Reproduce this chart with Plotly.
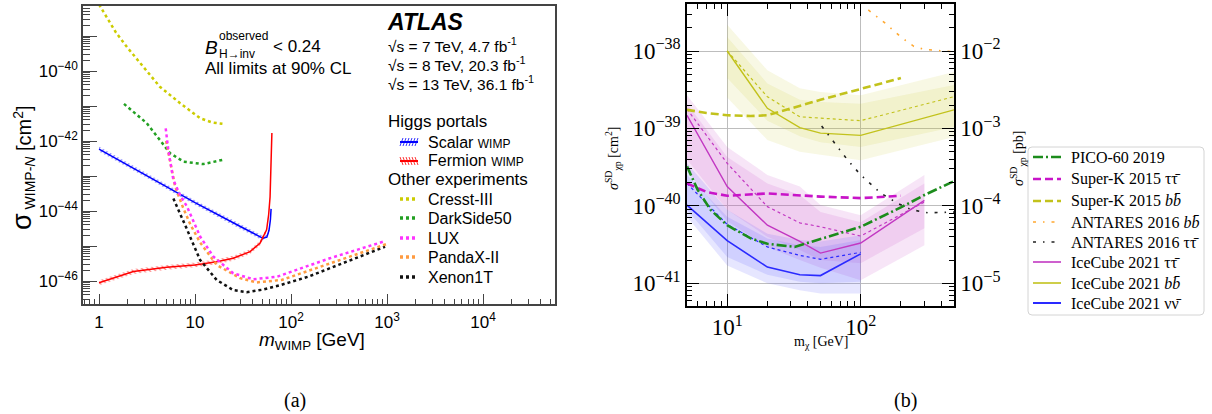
import numpy as np
import plotly.graph_objects as go

W, H = 1212, 414
SANS = "Liberation Sans, Arial, sans-serif"
SERIF = "Liberation Serif, Times New Roman, serif"

# ---------------- (a) Higgs portal limits vs. direct detection ----------------
# masses in GeV, cross-sections as log10(sigma / cm^2)
cresst_mass = [1.0, 1.5, 2.0, 2.9, 4.3, 7.0, 11.3, 15.0, 19.3]
cresst_logxs = [-38.10, -38.90, -39.35, -39.88, -40.45, -40.92, -41.35, -41.47, -41.51]

darkside_mass = [1.82, 2.28, 3.14, 4.3, 5.5, 7.6, 12.2, 19.3]
darkside_logxs = [-40.94, -41.16, -41.49, -41.97, -42.35, -42.59, -42.66, -42.54]

lux_mass = [4.95, 5.27, 5.95, 7.0, 8.2, 11.3, 15.5, 25.0, 40.4, 71.0, 254.0, 955.0]
lux_logxs = [-41.64, -42.26, -43.11, -43.55, -43.86, -44.73, -45.30, -45.78, -45.95, -45.88, -45.35, -44.86]

pandax_mass = [5.0, 5.5, 6.2, 7.5, 9.0, 11.3, 16.8, 29.5, 44.0, 80.0, 254.0, 1000.0]
pandax_logxs = [-42.0, -42.6, -43.3, -43.9, -44.4, -44.9, -45.54, -45.92, -46.04, -45.97, -45.49, -44.94]

xenon_mass = [5.95, 7.0, 8.2, 11.3, 16.8, 25.0, 34.5, 50.0, 76.8, 150.0, 254.0, 500.0, 955.0]
xenon_logxs = [-43.64, -44.10, -44.51, -45.40, -45.97, -46.26, -46.32, -46.25, -46.12, -45.88, -45.64, -45.32, -45.02]

scalar_mass = [1.0, 3.0, 10.0, 30.0, 51.0, 56.0, 59.0, 61.0, 62.0]
scalar_logxs = [-42.23, -42.95, -43.76, -44.45, -44.78, -44.75, -44.55, -44.25, -43.94]

fermion_mass = [1.0, 2.28, 5.07, 10.0, 16.8, 25.0, 37.5, 47.5, 55.7, 58.5, 60.5, 61.5, 62.5, 63.2]
fermion_logxs = [-46.05, -45.73, -45.61, -45.54, -45.45, -45.35, -45.16, -44.92, -44.54, -44.10, -43.60, -43.00, -42.40, -41.77]

# ---------------- (b) spin-dependent WIMP-proton limits ----------------
pico_mass = [5, 6, 7.5, 10, 15, 20, 32, 45, 60, 100, 200, 300, 500]
pico_logxs = [-39.49, -39.79, -40.05, -40.25, -40.42, -40.49, -40.53, -40.45, -40.39, -40.27, -40.02, -39.86, -39.68]

superk_tau_mass = [5, 7, 10, 20, 50, 100, 200]
superk_tau_logxs = [-39.71, -39.82, -39.87, -39.84, -39.88, -39.90, -39.87]

superk_bb_mass = [5, 7, 10, 15, 20, 30, 50, 100, 200]
superk_bb_logxs = [-38.76, -38.80, -38.83, -38.84, -38.83, -38.74, -38.63, -38.49, -38.35]

antares_bb_mass = [114, 150, 200, 250, 300, 400, 500]
antares_bb_logxs = [-37.47, -37.63, -37.82, -37.94, -37.98, -38.00, -38.01]

antares_tau_mass = [51, 60, 80, 100, 140, 190, 240, 320, 500]
antares_tau_logxs = [-38.97, -39.13, -39.41, -39.60, -39.83, -39.97, -40.05, -40.09, -40.08]

ic_tau_mass = [5, 10, 20, 35, 50, 100, 300]
ic_tau_obs = [-38.83, -39.75, -40.25, -40.46, -40.61, -40.48, -39.93]
ic_tau_exp = [-38.75, -39.45, -40.01, -40.22, -40.27, -40.39, -39.95]
ic_tau_2up = [-38.57, -39.24, -39.60, -39.75, -39.99, -40.12, -39.60]
ic_tau_1up = [-38.68, -39.37, -39.71, -39.86, -40.08, -40.21, -39.71]
ic_tau_1dn = [-39.40, -40.05, -40.40, -40.57, -40.70, -40.74, -40.29]
ic_tau_2dn = [-39.55, -40.20, -40.53, -40.70, -40.80, -40.96, -40.51]

ic_bb_mass = [10, 20, 35, 50, 100, 500]
ic_bb_obs = [-38.00, -38.74, -38.99, -39.06, -39.09, -38.76]
ic_bb_exp = [-38.00, -38.59, -38.85, -38.87, -38.90, -38.59]
ic_bb_2up = [-37.66, -38.25, -38.48, -38.53, -38.57, -38.27]
ic_bb_1up = [-37.82, -38.42, -38.63, -38.66, -38.68, -38.44]
ic_bb_1dn = [-38.35, -38.90, -39.10, -39.18, -39.24, -38.98]
ic_bb_2dn = [-38.60, -39.15, -39.30, -39.34, -39.41, -39.11]

ic_nu_mass = [5, 10, 20, 35, 50, 100]
ic_nu_obs = [-39.99, -40.45, -40.79, -40.89, -40.90, -40.62]
ic_nu_exp = [-39.71, -40.24, -40.53, -40.64, -40.69, -40.60]
ic_nu_2up = [-39.45, -40.05, -40.36, -40.44, -40.46, -40.38]
ic_nu_1up = [-39.60, -40.14, -40.42, -40.51, -40.53, -40.44]
ic_nu_1dn = [-40.05, -40.66, -40.89, -40.98, -41.00, -40.98]
ic_nu_2dn = [-40.14, -40.77, -41.00, -41.09, -41.13, -41.13]

CM2_PER_PB = 1e-36


def xp(v):
    return v / W


def yp(v):
    return 1 - v / H


def xs(logxs):
    return 10.0 ** np.asarray(logxs, dtype=float)


fig = go.Figure()


def add_line(m, logxs, color, width, dash="solid", xa="x", ya="y"):
    fig.add_trace(go.Scatter(x=m, y=xs(logxs), mode="lines",
                             line=dict(color=color, width=width, dash=dash),
                             xaxis=xa, yaxis=ya, showlegend=False, hoverinfo="skip"))


def add_band(m, lo, hi, fillcolor, xa="x2", ya="y2", pattern=None):
    x = list(m) + list(m)[::-1]
    y = list(xs(hi)) + list(xs(lo))[::-1]
    kw = dict(fillcolor=fillcolor)
    if pattern is not None:
        kw["fillpattern"] = pattern
    fig.add_trace(go.Scatter(x=x, y=y, mode="lines", fill="toself", line=dict(width=0),
                             xaxis=xa, yaxis=ya, showlegend=False, hoverinfo="skip", **kw))


# ---- panel (a) curves ----
HATCH = 0.07  # half-height of the hatched band, in decades
for m, lx, col, shape in [(scalar_mass, scalar_logxs, "#0000ff", "/"),
                          (fermion_mass, fermion_logxs, "#ff0000", "\\")]:
    lx = np.asarray(lx)
    add_band(m, lx - HATCH, lx + HATCH, "rgba(0,0,0,0)", xa="x", ya="y",
             pattern=dict(shape=shape, fgcolor=col, bgcolor="rgba(0,0,0,0)", size=4, solidity=0.3))
    add_line(m, lx, col, 1.5)

DOT = "3px,3px"
add_line(cresst_mass, cresst_logxs, "#cccc00", 2.5, DOT)
add_line(darkside_mass, darkside_logxs, "#22a022", 2.5, DOT)
add_line(xenon_mass, xenon_logxs, "#111111", 2.5, DOT)
add_line(pandax_mass, pandax_logxs, "#ff9b40", 2.5, DOT)
add_line(lux_mass, lux_logxs, "#ff33ff", 2.5, DOT)

# ---- panel (b) bands ----
YEL, MAG, BLU = "#c2c21c", "#c238c2", "#2a2aff"
for m, b2u, b1u, b1d, b2d, fc in [
        (ic_bb_mass, ic_bb_2up, ic_bb_1up, ic_bb_1dn, ic_bb_2dn, "rgba(200,200,50,0.13)"),
        (ic_tau_mass, ic_tau_2up, ic_tau_1up, ic_tau_1dn, ic_tau_2dn, "rgba(200,70,200,0.14)"),
        (ic_nu_mass, ic_nu_2up, ic_nu_1up, ic_nu_1dn, ic_nu_2dn, "rgba(80,80,255,0.14)")]:
    add_band(m, b2d, b2u, fc)
    add_band(m, b1d, b1u, fc)

# ---- panel (b) lines ----
B = dict(xa="x2", ya="y2")
add_line(ic_bb_mass, ic_bb_exp, YEL, 1.2, "dot", **B)
add_line(ic_tau_mass, ic_tau_exp, MAG, 1.2, "dot", **B)
add_line(ic_nu_mass, ic_nu_exp, BLU, 1.2, "dot", **B)
add_line(ic_bb_mass, ic_bb_obs, YEL, 1.4, **B)
add_line(ic_tau_mass, ic_tau_obs, MAG, 1.4, **B)
add_line(ic_nu_mass, ic_nu_obs, BLU, 1.6, **B)
add_line(superk_bb_mass, superk_bb_logxs, YEL, 2.6, "8px,4px", **B)
add_line(superk_tau_mass, superk_tau_logxs, "#c814c8", 2.6, "8px,4px", **B)
add_line(antares_bb_mass, antares_bb_logxs, "#ffa830", 1.6, "3px,7px,1.5px,7px", **B)
add_line(antares_tau_mass, antares_tau_logxs, "#222222", 1.6, "3px,7px,1.5px,7px", **B)
add_line(pico_mass, pico_logxs, "#1c8c1c", 2.6, "10px,3px,2px,3px", **B)

# the same PICO-60 limit expressed in pb drives the right-hand axis (drawn invisibly)
fig.add_trace(go.Scatter(x=pico_mass, y=xs(pico_logxs) / CM2_PER_PB, mode="lines",
                         line=dict(width=0, color="rgba(0,0,0,0)"), xaxis="x2", yaxis="y3",
                         showlegend=False, hoverinfo="skip"))


# ---- axes ----
def minor_vals(lo, hi):
    return [k * 10.0 ** e for e in range(lo, hi) for k in range(2, 10)]


def sup(e):
    return "10<sup>" + str(e).replace("-", "\u2212") + "</sup>"


axA = dict(type="log", showline=True, linecolor="#444444", linewidth=1.5, mirror=True,
           ticks="inside", tickcolor="#444444", tickwidth=1.2, tickmode="array",
           showgrid=False, zeroline=False,
           tickfont=dict(family=SANS, size=17, color="black"))

fig.update_layout(
    width=W, height=H, margin=dict(l=0, r=0, t=0, b=0),
    paper_bgcolor="white", plot_bgcolor="white", showlegend=False,
    xaxis=dict(axA, domain=[xp(83), xp(555)], anchor="y", range=[-0.167, 4.75],
               ticklen=10, tickvals=[1, 10, 100, 1e3, 1e4],
               ticktext=["1", "10", sup(2), sup(3), sup(4)], ticklabelstandoff=2,
               minor=dict(tickmode="array", tickvals=minor_vals(-1, 5), ticks="inside",
                          ticklen=5, tickwidth=1, tickcolor="#444444", showgrid=False)),
    yaxis=dict(axA, domain=[yp(304), yp(6)], anchor="x", range=[-46.657, -38.143],
               ticklen=14, tickvals=[10.0 ** e for e in range(-46, -38)],
               ticktext=[sup(e) if e % 2 == 0 else "" for e in range(-46, -38)],
               minor=dict(tickmode="array", tickvals=minor_vals(-47, -38), ticks="inside",
                          ticklen=7, tickwidth=1, tickcolor="#444444", showgrid=False)),
)

axB = dict(type="log", showline=True, linecolor="black", linewidth=1.5,
           ticks="inside", tickcolor="black", tickwidth=1.3, ticklen=12, tickmode="array",
           zeroline=False, gridcolor="#bdbdbd", gridwidth=1,
           tickfont=dict(family=SERIF, size=23, color="black"))
minorB = dict(ticks="inside", ticklen=5, tickwidth=1, tickcolor="black", showgrid=False,
              tickmode="array")

fig.update_layout(
    xaxis2=dict(axB, domain=[xp(687), xp(954)], anchor="y2",
                range=[np.log10(5), np.log10(500)], mirror="ticks", showgrid=True,
                tickvals=[10, 100], ticktext=[sup(1), sup(2)],
                minor=dict(minorB, tickvals=minor_vals(0, 3))),
    yaxis2=dict(axB, domain=[yp(306), yp(4.3)], anchor="x2",
                range=[-41.293, -37.397], showgrid=True,
                tickvals=[10.0 ** e for e in range(-41, -37)],
                ticktext=[sup(e) for e in range(-41, -37)],
                minor=dict(minorB, tickvals=minor_vals(-42, -37))),
    yaxis3=dict(axB, overlaying="y2", anchor="x2", side="right",
                range=[-5.293, -1.397], showgrid=False,
                tickvals=[10.0 ** e for e in range(-5, -1)],
                ticktext=[sup(e) for e in range(-5, -1)],
                minor=dict(minorB, tickvals=minor_vals(-6, -1))),
)


# ---- text ----
def label(text, x, y, size, family=SANS, xanchor="left", yanchor="middle", angle=0, color="black"):
    fig.add_annotation(text=text, x=xp(x), y=yp(y), xref="paper", yref="paper",
                       showarrow=False, xanchor=xanchor, yanchor=yanchor, textangle=angle,
                       font=dict(size=size, family=family, color=color))


def seg(x0, y0, x1, y1, color, width, dash="solid"):
    fig.add_shape(type="line", xref="paper", yref="paper",
                  x0=xp(x0), y0=yp(y0), x1=xp(x1), y1=yp(y1),
                  line=dict(color=color, width=width, dash=dash))


# panel (a) texts
label("<i>B</i>", 203, 47, 19)
label("observed", 217, 36, 12)
label("H\u2192inv", 217, 54, 12)
label("< 0.24", 271, 46, 17)
label("All limits at 90% CL", 203, 69, 17)
label("<b><i>ATLAS</i></b>", 385, 22, 23)
label("\u221As = 7 TeV, 4.7 fb<sup>-1</sup>", 386, 45, 15.5)
label("\u221As = 8 TeV, 20.3 fb<sup>-1</sup>", 386, 64, 15.5)
label("\u221As = 13 TeV, 36.1 fb<sup>-1</sup>", 386, 83, 15.5)
label("Higgs portals", 386, 122, 17)
label("Other experiments", 386, 180, 17)

label("Scalar <span style='font-size:12px'>WIMP</span>", 426, 142, 16)
label("Fermion <span style='font-size:12px'>WIMP</span>", 426, 161, 16)
for yy, col, up in [(142, "#0000ff", True), (161, "#ff0000", False)]:
    seg(400, yy, 418, yy, col, 2)
    for i in range(6):
        x0 = 400 + 3 * i
        if up:
            seg(x0, yy + 4, x0 + 3, yy - 4, col, 0.8)
        else:
            seg(x0, yy - 4, x0 + 3, yy + 4, col, 0.8)

for yy, col, name in [(199, "#cccc00", "Cresst-III"), (218, "#22a022", "DarkSide50"),
                      (238, "#ff33ff", "LUX"), (257, "#ff9b40", "PandaX-II"),
                      (277, "#111111", "Xenon1T")]:
    seg(400, yy, 417, yy, col, 3.5, "3px,3px")
    label(name, 426, yy, 16)

label("<i>m</i><sub>WIMP</sub> [GeV]", 312, 341, 19, xanchor="center")
label("<span style='font-size:27px'>\u03c3</span><sub> WIMP-<i>N</i></sub> [cm<sup>2</sup>]",
      22, 168, 20, xanchor="center", angle=-90)
label("(a)", 295, 400, 20, family=SERIF, xanchor="center")

# panel (b) texts
label("m<sub>\u03c7</sub> [GeV]", 821, 342, 14, family=SERIF, xanchor="center")
label("<i>\u03c3</i><sup>SD</sup><sub>\u03c7p</sub> [cm<sup>2</sup>]", 613, 158, 14,
      family=SERIF, xanchor="center", angle=-90)
label("<i>\u03c3</i><sup>SD</sup><sub>\u03c7p</sub> [pb]", 1018, 158, 14,
      family=SERIF, xanchor="center", angle=-90)
label("(b)", 905, 400, 20, family=SERIF, xanchor="center")

# panel (b) legend box
x0, x1, y0, y1, r = 1028, 1204, 147, 315, 4
path = (f"M {xp(x0 + r)},{yp(y0)} L {xp(x1 - r)},{yp(y0)} "
        f"Q {xp(x1)},{yp(y0)} {xp(x1)},{yp(y0 + r)} L {xp(x1)},{yp(y1 - r)} "
        f"Q {xp(x1)},{yp(y1)} {xp(x1 - r)},{yp(y1)} L {xp(x0 + r)},{yp(y1)} "
        f"Q {xp(x0)},{yp(y1)} {xp(x0)},{yp(y1 - r)} L {xp(x0)},{yp(y0 + r)} "
        f"Q {xp(x0)},{yp(y0)} {xp(x0 + r)},{yp(y0)} Z")
fig.add_shape(type="path", path=path, xref="paper", yref="paper",
              fillcolor="white", line=dict(color="#d4d4d4", width=1))

legend_rows = [
    ("PICO-60 2019", "#1c8c1c", 2.6, "10px,3px,2px,3px"),
    ("Super-K 2015 \u03c4\u03c4\u0304", "#c814c8", 2.6, "8px,4px"),
    ("Super-K 2015 <i>bb\u0304</i>", YEL, 2.6, "8px,4px"),
    ("ANTARES 2016 <i>bb\u0304</i>", "#ffa830", 1.6, "3px,7px,1.5px,7px"),
    ("ANTARES 2016 \u03c4\u03c4\u0304", "#222222", 1.6, "3px,7px,1.5px,7px"),
    ("IceCube 2021 \u03c4\u03c4\u0304", MAG, 1.6, "solid"),
    ("IceCube 2021 <i>bb\u0304</i>", YEL, 1.6, "solid"),
    ("IceCube 2021 \u03bd\u03bd\u0304", BLU, 2.0, "solid"),
]
row_y = [157, 179, 201, 222, 242, 262, 283, 303]
for (name, col, wdt, dsh), yy in zip(legend_rows, row_y):
    seg(1033, yy, 1061, yy, col, wdt, dsh)
    label(name, 1069, yy, 16, family=SERIF)

fig.write_html("out.html")
